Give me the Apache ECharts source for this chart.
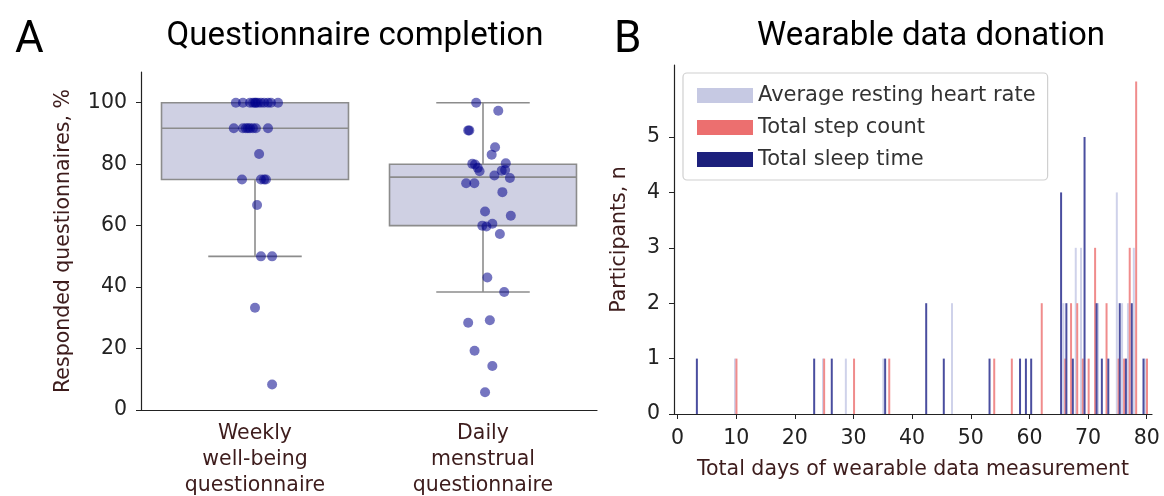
<!DOCTYPE html>
<html>
<head>
<meta charset="utf-8">
<title>Questionnaire completion / Wearable data donation</title>
<script src="https://cdn.jsdelivr.net/npm/echarts@6/dist/echarts.min.js"></script>
<style>
  html, body { margin: 0; padding: 0; background: #fff; }
  #main { width: 1164px; height: 496px; }
</style>
</head>
<body>
<div id="main"></div>
<script>
// panel A - questionnaire completion
var categories = ['Weekly\nwell-being\nquestionnaire', 'Daily\nmenstrual\nquestionnaire'];
var boxMin = [50, 38.4];
var boxQ1 = [75, 60];
var boxMed = [91.7, 75.8];
var boxQ3 = [100, 80];
var boxMax = [100, 100];
var yTicksA = [0, 20, 40, 60, 80, 100];

// single respondents (value in %, horizontal jitter)
var weeklyVals = [100, 100, 100, 100, 100, 100, 100, 100, 100, 100, 100, 100,
  91.7, 91.7, 91.7, 91.7, 91.7, 91.7, 91.7, 91.7,
  83.3, 75, 75, 75, 75, 66.7, 50, 50, 33.3, 8.3];
var weeklyJitter = [-0.084, -0.053, -0.022, 0, 0.004, 0.013, 0.026, 0.057, 0.07, 0.101, -0.009, 0.04,
  -0.093, -0.053, -0.04, -0.022, -0.009, 0.004, 0.057, -0.031,
  0.018, -0.057, 0.026, 0.04, 0.048, 0.009, 0.026, 0.075, 0, 0.075];
var dailyVals = [100, 97.4, 91, 91, 85.5, 83.1, 80.1, 79.9, 78.8, 77.7, 80.3, 77.9, 78.1, 76.3, 75.5,
  73.8, 73.8, 70.9, 64.6, 63.2, 60, 59.7, 60.6, 57.3, 43.1, 38.4, 28.4, 29.2, 19.3, 14.3, 5.8];
var dailyJitter = [-0.03, 0.067, -0.065, -0.06, 0.053, 0.038, -0.047, -0.035, -0.023, -0.015, 0.1, 0.082, 0.097, 0.05, 0.118,
  -0.074, -0.038, 0.085, 0.009, 0.122, -0.003, 0.015, 0.041, 0.074, 0.019, 0.093, -0.065, 0.03, -0.037, 0.041, 0.009];

// panel B - wearable data donation (days, participants)
var hrDays = [9.8, 24.8, 28.7, 35.1, 46.8, 65.8, 67.9, 68.8, 71.7, 74.9, 75.8, 76.8, 77.8, 79.7];
var hrCounts = [1, 1, 1, 1, 2, 2, 3, 3, 2, 4, 2, 2, 3, 1];
var stepDays = [10.05, 25.0, 30.1, 36.1, 54.0, 57.0, 62.1, 66.1, 67.1, 68.15, 69.1, 70.1, 71.2, 73.15, 75.2, 76.15, 77.1, 78.2, 80.05];
var stepCounts = [1, 1, 1, 1, 1, 1, 2, 1, 2, 2, 1, 1, 3, 2, 1, 1, 3, 6, 1];
var sleepDays = [3.3, 23.3, 26.3, 35.4, 42.4, 45.4, 53.2, 58.4, 59.4, 60.3, 65.4, 66.3, 67.4, 69.4, 71.45, 72.35, 73.45, 75.4, 76.45, 77.45, 79.45];
var sleepCounts = [1, 1, 1, 1, 2, 1, 1, 1, 1, 1, 4, 2, 1, 5, 2, 1, 1, 2, 1, 2, 1];
var xTicksB = [0, 10, 20, 30, 40, 50, 60, 70, 80];
var yTicksB = [0, 1, 2, 3, 4, 5];

var myChart = echarts.init(document.getElementById('main'));

function pairs(xs, ys) {
  var out = [];
  for (var i = 0; i < xs.length; i++) out.push([xs[i], ys[i]]);
  return out;
}

var boxData = [];
for (var i = 0; i < categories.length; i++) {
  boxData.push([i, boxMin[i], boxQ1[i], boxMed[i], boxQ3[i], boxMax[i]]);
}
var pts = [];
for (var i = 0; i < weeklyVals.length; i++) pts.push([0 + weeklyJitter[i], weeklyVals[i]]);
for (var i = 0; i < dailyVals.length; i++) pts.push([1 + dailyJitter[i], dailyVals[i]]);

var tickFont = { fontFamily: 'DejaVu Sans', fontSize: 20.5, color: '#222' };
var nameFont = { fontFamily: 'DejaVu Sans', fontSize: 20.5, color: '#3d1c1c' };
var lineCol = '#222';

function renderBox(params, api) {
  var c = api.value(0);
  var pMin = api.coord([c, api.value(1)]);
  var pQ1 = api.coord([c, api.value(2)]);
  var pMed = api.coord([c, api.value(3)]);
  var pQ3 = api.coord([c, api.value(4)]);
  var pMax = api.coord([c, api.value(5)]);
  var w = api.size([1, 0])[0] * 0.82;
  var cx = pMed[0];
  var st = { stroke: '#8c8c8c', lineWidth: 1.6, fill: null };
  return {
    type: 'group',
    children: [
      { type: 'line', shape: { x1: cx, y1: pQ1[1], x2: cx, y2: pMin[1] }, style: st },
      { type: 'line', shape: { x1: cx, y1: pQ3[1], x2: cx, y2: pMax[1] }, style: st },
      { type: 'line', shape: { x1: cx - w / 4, y1: pMin[1], x2: cx + w / 4, y2: pMin[1] }, style: st },
      { type: 'line', shape: { x1: cx - w / 4, y1: pMax[1], x2: cx + w / 4, y2: pMax[1] }, style: st },
      { type: 'rect', shape: { x: cx - w / 2, y: pQ3[1], width: w, height: pQ1[1] - pQ3[1] },
        style: { fill: '#cfd0e3', stroke: '#8c8c8c', lineWidth: 1.6 } },
      { type: 'line', shape: { x1: cx - w / 2, y1: pMed[1], x2: cx + w / 2, y2: pMed[1] }, style: st }
    ]
  };
}

option = {
  animation: false,
  backgroundColor: '#fff',
  title: [
    { text: 'A', left: 10, top: 14, textStyle: { fontFamily: 'Roboto', fontSize: 44, fontWeight: 'normal', color: '#000' } },
    { text: 'Questionnaire completion', left: 350, textAlign: 'center', top: 15,
      textStyle: { fontFamily: 'Roboto', fontSize: 33, fontWeight: 'normal', color: '#000' } },
    { text: 'B', left: 609, top: 14, textStyle: { fontFamily: 'Roboto', fontSize: 44, fontWeight: 'normal', color: '#000' } },
    { text: 'Wearable data donation', left: 926, textAlign: 'center', top: 15,
      textStyle: { fontFamily: 'Roboto', fontSize: 33, fontWeight: 'normal', color: '#000' } }
  ],
  legend: {
    orient: 'vertical',
    left: 683, top: 73,
    padding: [11, 12, 9, 14],
    itemGap: 9,
    itemWidth: 56, itemHeight: 15,
    icon: 'rect',
    borderColor: '#d0d0d0', borderWidth: 1.2, borderRadius: 4,
    textStyle: { fontFamily: 'DejaVu Sans', fontSize: 21, color: '#333', lineHeight: 23 },
    data: [
      { name: 'Average resting heart rate', itemStyle: { color: '#c6c9e3' } },
      { name: 'Total step count', itemStyle: { color: '#ec6f6f' } },
      { name: 'Total sleep time', itemStyle: { color: '#1c207c' } }
    ]
  },
  grid: [
    { left: 141, top: 72, width: 456, height: 338, outerBoundsMode: 'none' },
    { left: 674, top: 65, width: 478, height: 349, outerBoundsMode: 'none' }
  ],
  xAxis: [
    {
      type: 'category', gridIndex: 0, data: categories, boundaryGap: true,
      axisLine: { onZero: false, lineStyle: { color: lineCol, width: 1.2 } },
      axisTick: { alignWithLabel: true, length: 5, lineStyle: { color: lineCol } },
      axisLabel: Object.assign({}, nameFont, { margin: 11, lineHeight: 26 })
    },
    { type: 'value', gridIndex: 0, min: -0.5, max: 1.5, show: false },
    {
      type: 'value', gridIndex: 1, min: -0.6, max: 80.9,
      name: 'Total days of wearable data measurement', nameLocation: 'middle', nameGap: 45,
      nameTextStyle: nameFont,
      splitLine: { show: false },
      axisLine: { onZero: false, lineStyle: { color: lineCol, width: 1.2 } },
      axisTick: { length: 5, customValues: xTicksB, lineStyle: { color: lineCol } },
      axisLabel: Object.assign({}, tickFont, { margin: 14, customValues: xTicksB })
    }
  ],
  yAxis: [
    {
      type: 'value', gridIndex: 0, min: 0, max: 110,
      name: 'Responded questionnaires, %', nameLocation: 'middle', nameGap: 67,
      nameTextStyle: nameFont,
      splitLine: { show: false },
      axisLine: { show: true, onZero: false, lineStyle: { color: lineCol, width: 1.2 } },
      axisTick: { show: true, length: 5, customValues: yTicksA, lineStyle: { color: lineCol } },
      axisLabel: Object.assign({}, tickFont, { margin: 14, customValues: yTicksA })
    },
    {
      type: 'value', gridIndex: 1, min: 0, max: 6.3,
      name: 'Participants, n', nameLocation: 'middle', nameGap: 44,
      nameTextStyle: nameFont,
      splitLine: { show: false },
      axisLine: { show: true, onZero: false, lineStyle: { color: lineCol, width: 1.2 } },
      axisTick: { show: true, length: 5, customValues: yTicksB, lineStyle: { color: lineCol } },
      axisLabel: Object.assign({}, tickFont, { margin: 14, customValues: yTicksB })
    }
  ],
  series: [
    {
      type: 'custom', name: 'box', xAxisIndex: 0, yAxisIndex: 0,
      renderItem: renderBox, data: boxData, z: 2,
      encode: { x: 0, y: [1, 2, 3, 4, 5] }
    },
    {
      type: 'scatter', name: 'points', xAxisIndex: 1, yAxisIndex: 0,
      symbolSize: 10, data: pts, z: 5,
      itemStyle: { color: 'rgba(0,0,139,0.68)' }
    },
    {
      type: 'bar', name: 'Average resting heart rate', xAxisIndex: 2, yAxisIndex: 1,
      barWidth: 2, barGap: '-100%', data: pairs(hrDays, hrCounts),
      itemStyle: { color: '#cfd2ea' }
    },
    {
      type: 'bar', name: 'Total step count', xAxisIndex: 2, yAxisIndex: 1,
      barWidth: 2, barGap: '-100%', data: pairs(stepDays, stepCounts),
      itemStyle: { color: '#f08c8c' }
    },
    {
      type: 'bar', name: 'Total sleep time', xAxisIndex: 2, yAxisIndex: 1,
      barWidth: 2, barGap: '-100%', data: pairs(sleepDays, sleepCounts),
      itemStyle: { color: '#4a4e9f' }
    }
  ]
};

myChart.setOption(option);
</script>
</body>
</html>
